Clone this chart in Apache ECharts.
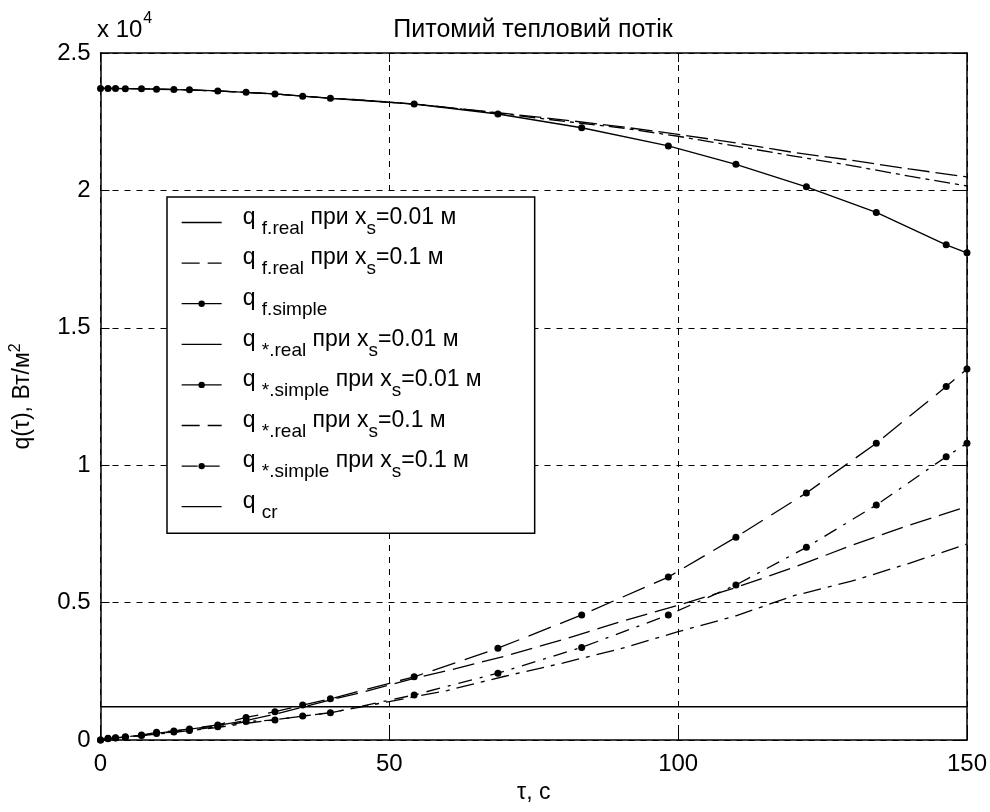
<!DOCTYPE html>
<html>
<head>
<meta charset="utf-8">
<script src="https://cdn.jsdelivr.net/npm/echarts@6/dist/echarts.min.js"></script>
<style>
html,body{margin:0;padding:0;background:#fff;}
#chart{width:990px;height:812px;}
</style>
</head>
<body>
<div id="chart"></div>
<script>
// ---- data ----
// time points of the "simple" model (markers)
const tSimple = [0,1.3,2.6,4.3,7.1,9.7,12.7,15.4,20.3,25.2,30.2,35,39.8,54.3,68.8,83.3,98.3,110,122.2,134.3,146.4,150];
const qfSimple = [23710,23710,23710,23700,23700,23680,23670,23660,23620,23570,23510,23430,23350,23140,22780,22280,21620,20950,20130,19200,18020,17730];
const qsSimple001 = [0,60,80,120,180,280,330,400,550,820,1030,1270,1500,2300,3340,4550,5930,7380,8990,10800,12860,13500];
const qsSimple01 = [0,50,70,100,160,240,290,350,480,670,730,870,990,1640,2430,3370,4550,5640,7010,8550,10310,10800];
// time points of the "real" model lines
const tReal = [0,5,10,15,20,25,30,35,40,45,50,55,60,70,80,90,100,110,120,130,140,150];
const qfReal001 = [23710,23705,23685,23660,23620,23570,23510,23430,23350,23290,23210,23130,23020,22800,22570,22320,22040,21730,21380,21100,20780,20490];
const qfReal01  = [23710,23705,23685,23660,23620,23570,23510,23430,23350,23290,23210,23130,23020,22780,22520,22280,21970,21610,21250,20900,20520,20160];
const qsReal001 = [0,130,250,380,520,700,930,1200,1470,1720,2000,2280,2520,3050,3650,4300,4900,5550,6280,7080,7820,8490];
const qsReal01  = [0,120,220,330,450,600,730,870,1000,1200,1400,1600,1800,2320,2800,3320,3940,4520,5250,5780,6430,7130];
const tCr = [0,150];
const qCr = [1210,1210];
// axis ticks
const xTicks = {min:0, max:150, step:50};
const yTicks = {min:0, max:25000, step:5000, scale:10000};

const FONT = "'Liberation Sans', Arial, sans-serif";
const pairs = (ts, vs) => ts.map((t,i)=>[t, vs[i]]);

const seriesDefs = [
  {key:'fr001', label:'{m|q }{s|f.real}{m| при x}{s|s}{m|=0.01 м}', t:tReal, v:qfReal001, type:[22,6], sym:false, legendType:'solid'},
  {key:'fr01',  label:'{m|q }{s|f.real}{m| при x}{s|s}{m|=0.1 м}',  t:tReal, v:qfReal01,  type:[16,5,4,5], sym:false, legendType:[18,8]},
  {key:'fs',    label:'{m|q }{s|f.simple}', t:tSimple, v:qfSimple, type:'solid', sym:true, legendType:'solid'},
  {key:'sr001', label:'{m|q }{s|*.real}{m| при x}{s|s}{m|=0.01 м}', t:tReal, v:qsReal001, type:[22,8], sym:false, legendType:'solid'},
  {key:'ss001', label:'{m|q }{s|*.simple}{m| при x}{s|s}{m|=0.01 м}', t:tSimple, v:qsSimple001, type:[24,10], sym:true, legendType:'solid'},
  {key:'sr01',  label:'{m|q }{s|*.real}{m| при x}{s|s}{m|=0.1 м}', t:tReal, v:qsReal01, type:[18,7,4,7], sym:false, legendType:[18,8]},
  {key:'ss01',  label:'{m|q }{s|*.simple}{m| при x}{s|s}{m|=0.1 м}', t:tSimple, v:qsSimple01, type:[14,8,3,8], sym:true, legendType:[16,6]},
  {key:'cr',    label:'{m|q }{s|cr}', t:tCr, v:qCr, type:'solid', sym:false, legendType:'solid'}
];
const labelMap = {};
seriesDefs.forEach(d=>labelMap[d.key]=d.label);

const axisCommon = {
  type:'value',
  axisLine:{show:true, onZero:false, lineStyle:{color:'#000', width:1.5}},
  axisTick:{show:true, inside:true, length:9, lineStyle:{color:'#000', width:1}},
};

const chart = echarts.init(document.getElementById('chart'), null, {renderer:'canvas'});
chart.setOption({
  animation:false,
  backgroundColor:'#fff',
  grid:{left:98, right:22, top:53, bottom:72, containLabel:false},
  xAxis:[
    Object.assign({}, axisCommon, {
      min:xTicks.min, max:xTicks.max, interval:xTicks.step, position:'bottom',
      axisLabel:{color:'#000', fontSize:24, fontFamily:FONT, margin:12},
      splitLine:{show:true, lineStyle:{color:'#000', type:[6,6], width:1}},
      name:'τ, с', nameLocation:'middle', nameGap:40,
      nameTextStyle:{color:'#000', fontSize:23, fontFamily:FONT}
    }),
    Object.assign({}, axisCommon, {
      min:xTicks.min, max:xTicks.max, interval:xTicks.step, position:'top',
      axisLabel:{show:false}, splitLine:{show:false}
    })
  ],
  yAxis:[
    Object.assign({}, axisCommon, {
      min:yTicks.min, max:yTicks.max, interval:yTicks.step, position:'left',
      axisLabel:{color:'#000', fontSize:24, fontFamily:FONT, margin:10,
        formatter:v=>String(v/yTicks.scale)},
      splitLine:{show:true, lineStyle:{color:'#000', type:[6,6], width:1}},
      name:'{a|q(τ), Вт/м}{b|2}', nameLocation:'middle', nameGap:66,
      nameTextStyle:{color:'#000', fontSize:23, fontFamily:FONT,
        rich:{a:{fontSize:23, fontFamily:FONT, color:'#000', padding:[6,0,0,0]},
              b:{fontSize:16, fontFamily:FONT, color:'#000', padding:[0,0,8,0]}}}
    }),
    Object.assign({}, axisCommon, {
      min:yTicks.min, max:yTicks.max, interval:yTicks.step, position:'right',
      axisLabel:{show:false}, splitLine:{show:false}
    })
  ],
  legend:{
    orient:'vertical', left:167, top:197,
    itemWidth:40, itemHeight:8, itemGap:8.6,
    padding:[9,53,11,14],
    borderColor:'#000', borderWidth:1.5, backgroundColor:'#fff',
    selectedMode:false,
    data: seriesDefs.map(d=>({name:d.key,
      lineStyle:{type:d.legendType, width:1.3, color:'#000'},
      itemStyle: d.sym ? {color:'#000'} : {color:'#000', opacity:0}})),
    formatter: name=>labelMap[name],
    textStyle:{color:'#000', fontFamily:FONT, padding:[0,0,0,16],
      rich:{
        m:{fontSize:23, fontFamily:FONT, color:'#000', padding:[0,0,10,0]},
        s:{fontSize:19, fontFamily:FONT, color:'#000', padding:[12,0,0,0]}
      }}
  },
  graphic:[
    {type:'text', x:533, y:30, style:{text:'Питомий тепловий потік', fill:'#000', fontSize:25, fontFamily:FONT, align:'center', verticalAlign:'middle'}},
    {type:'text', x:97, y:8, style:{text:'{a|x 10}{b|4}', fill:'#000',
      rich:{a:{fontSize:24, fontFamily:FONT, color:'#000', padding:[10,0,0,0]},
            b:{fontSize:16, fontFamily:FONT, color:'#000', padding:[0,0,12,1]}}}}
  ],
  series: seriesDefs.map(d=>({
    name:d.key, type:'line', xAxisIndex:0, yAxisIndex:0,
    data:pairs(d.t, d.v),
    symbol: d.sym ? 'circle' : 'none', symbolSize:7, showAllSymbol:true,
    showSymbol:d.sym,
    itemStyle:{color:'#000'},
    lineStyle:{color:'#000', width:1.3, type:d.type},
    emphasis:{disabled:true}, silent:true, z:3
  }))
});
</script>
</body>
</html>
